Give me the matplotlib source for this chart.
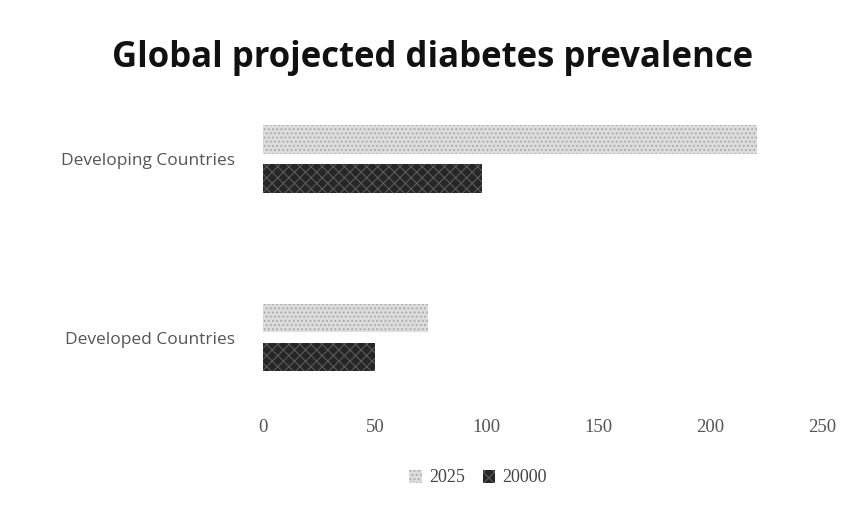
import matplotlib
matplotlib.use("Agg")
import matplotlib.pyplot as plt
import numpy as np

categories = ["Developed Countries", "Developing Countries"]
series_names = ["2025", "20000"]
values_2025 = [74, 221]
values_2000 = [50, 98]
x_ticks = [0, 50, 100, 150, 200, 250]

fig = plt.figure(figsize=(8.65, 5.17), dpi=100)
ax = fig.add_axes([263 / 865, 1 - 400 / 517, (822 - 263) / 865, 300 / 517])

y = np.arange(len(categories))
h = 0.16
off = 0.11

plt.rcParams["hatch.linewidth"] = 0.8
ax.barh(y + off, values_2025, height=h, color="#dcdcdc", edgecolor="#a8a8a8",
        hatch="....", linewidth=0, label=series_names[0])
ax.barh(y - off, values_2000, height=h, color="#262626", edgecolor="#5a5a5a",
        hatch="xxx", linewidth=0, label=series_names[1])

ax.set_xlim(0, 250)
ax.set_ylim(-0.35, 1.33)
ax.set_xticks(x_ticks)
ax.set_xticklabels([str(t) for t in x_ticks], family="Liberation Serif",
                   fontsize=13.5, color="#555555")
ax.set_yticks(y)
ax.set_yticklabels(categories, family="Open Sans", fontsize=12.5, color="#555555")
ax.tick_params(length=0, axis="x", pad=14)
ax.tick_params(length=0, axis="y", pad=20)
for s in ax.spines.values():
    s.set_visible(False)

fig.text(0.5, 1 - 58 / 517, "Global projected diabetes prevalence",
         ha="center", va="center", fontsize=25, fontweight="bold",
         family="Open Sans", color="#111111")

leg = fig.legend(loc="center", bbox_to_anchor=(478 / 865, 1 - 478 / 517), ncol=2,
                 frameon=False, prop={"family": "Liberation Serif", "size": 13},
                 handlelength=0.7, handleheight=0.7, columnspacing=1.0, handletextpad=0.4)
for t in leg.get_texts():
    t.set_color("#444444")

fig.savefig("out.png", dpi=100, facecolor="white")
